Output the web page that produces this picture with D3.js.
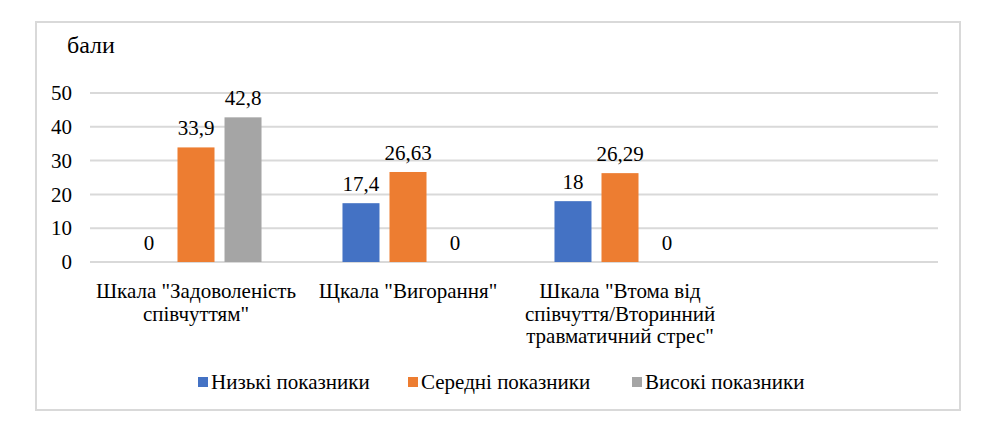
<!DOCTYPE html>
<html><head><meta charset="utf-8"><script src="https://cdn.jsdelivr.net/npm/d3@7"></script></head>
<body style="margin:0">
<script>
// дані
const categories = ['Шкала "Задоволеність співчуттям"', 'Щкала "Вигорання"', 'Шкала "Втома від співчуття/Вторинний травматичний стрес"', ''];
const categoryLines = [
    ['Шкала "Задоволеність', 'співчуттям"'],
    ['Щкала "Вигорання"'],
    ['Шкала "Втома від', 'співчуття/Вторинний', 'травматичний стрес"'],
    []
];
const seriesNames = ['Низькі показники', 'Середні показники', 'Високі показники'];
const lowValues = [0, 17.4, 18, null];
const midValues = [33.9, 26.63, 26.29, null];
const highValues = [42.8, 0, 0, null];
const yTicks = [0, 10, 20, 30, 40, 50];
const colors = ['#4472C4', '#ED7D31', '#A5A5A5'];

const width = 993, height = 425;
const margin = { left: 90, right: 55, top: 93, bottom: 163 };
const font = '"Liberation Serif"';
const textSize = '21px';

const svg = d3.select('body').append('svg')
    .attr('width', width)
    .attr('height', height);

// рамка
svg.append('rect')
    .attr('x', 36).attr('y', 22)
    .attr('width', 924).attr('height', 388)
    .attr('fill', 'none')
    .attr('stroke', '#d9d9d9')
    .attr('stroke-width', 2);

const x0 = d3.scaleBand()
    .domain(categories.map((d, i) => i))
    .range([margin.left, width - margin.right]);

const x1 = d3.scaleBand()
    .domain(seriesNames)
    .range([0, x0.bandwidth()])
    .paddingInner(0.2128)
    .paddingOuter(0.861);

const y = d3.scaleLinear()
    .domain([0, 50])
    .range([height - margin.bottom, margin.top]);

// сітка
svg.append('g')
    .selectAll('line')
    .data(yTicks)
    .enter()
    .append('line')
    .attr('x1', margin.left)
    .attr('x2', width - margin.right)
    .attr('y1', d => y(d))
    .attr('y2', d => y(d))
    .attr('stroke', '#d9d9d9')
    .attr('stroke-width', 2);

// вісь Y
const yAxis = d3.axisLeft(y).tickValues(yTicks).tickSize(0).tickPadding(18).tickFormat(d3.format('d'));
const yG = svg.append('g')
    .attr('transform', `translate(${margin.left},0)`)
    .call(yAxis);
yG.select('.domain').remove();
yG.selectAll('text')
    .style('font-family', font)
    .style('font-size', textSize)
    .attr('fill', '#000');

svg.append('text')
    .attr('x', 67)
    .attr('y', 53)
    .style('font-family', font)
    .style('font-size', '24px')
    .text('бали');

// стовпці
const allSeries = [lowValues, midValues, highValues];
const rows = [];
categories.forEach((c, i) => {
    allSeries.forEach((vals, s) => {
        if (vals[i] !== null) rows.push({ cat: i, series: seriesNames[s], color: colors[s], value: vals[i] });
    });
});

svg.append('g')
    .selectAll('rect')
    .data(rows)
    .enter()
    .append('rect')
    .attr('x', d => x0(d.cat) + x1(d.series))
    .attr('y', d => y(d.value))
    .attr('width', x1.bandwidth())
    .attr('height', d => y(0) - y(d.value))
    .attr('fill', d => d.color);

svg.append('g')
    .selectAll('text')
    .data(rows)
    .enter()
    .append('text')
    .attr('x', d => x0(d.cat) + x1(d.series) + x1.bandwidth() / 2)
    .attr('y', d => y(d.value) - 12)
    .attr('text-anchor', 'middle')
    .style('font-family', font)
    .style('font-size', textSize)
    .text(d => String(d.value).replace('.', ','));

// підписи категорій
const labels = svg.append('g')
    .selectAll('text')
    .data(categoryLines)
    .enter()
    .append('text')
    .attr('x', (d, i) => x0(i) + x0.bandwidth() / 2)
    .attr('y', 298)
    .attr('text-anchor', 'middle')
    .style('font-family', font)
    .style('font-size', textSize);

labels.each(function (lines, i) {
    d3.select(this).selectAll('tspan')
        .data(lines)
        .enter()
        .append('tspan')
        .attr('x', x0(i) + x0.bandwidth() / 2)
        .attr('dy', (d, j) => j === 0 ? 0 : 22.5)
        .text(d => d);
});

// легенда
const legendX = [198, 408, 632];
const legend = svg.append('g')
    .selectAll('g')
    .data(seriesNames)
    .enter()
    .append('g')
    .attr('transform', (d, i) => `translate(${legendX[i]}, 382)`);

legend.append('rect')
    .attr('x', 0).attr('y', -5)
    .attr('width', 10).attr('height', 10)
    .attr('fill', (d, i) => colors[i]);

legend.append('text')
    .attr('x', 13)
    .attr('y', 7)
    .style('font-family', font)
    .style('font-size', textSize)
    .text(d => d);
</script>
</body></html>
